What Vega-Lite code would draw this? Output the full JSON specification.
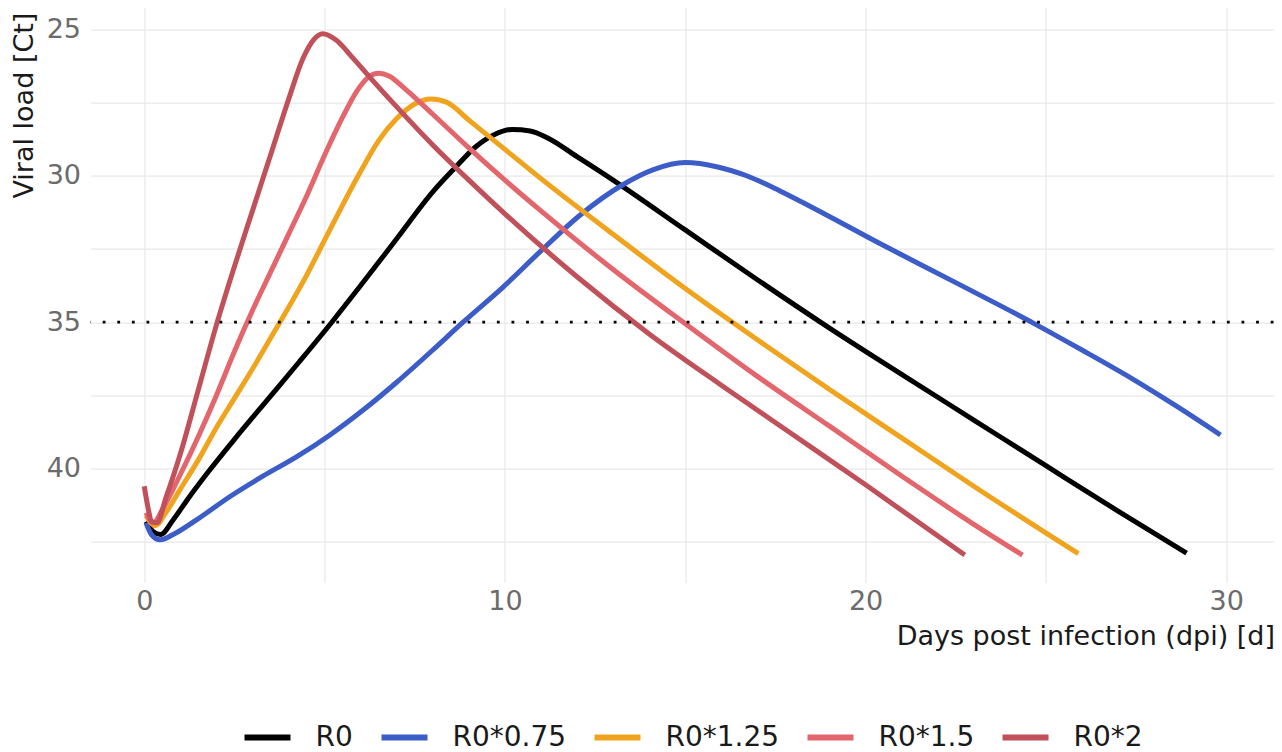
{
  "$schema": "https://vega.github.io/schema/vega-lite/v6.json",
  "width": 1183,
  "height": 575,
  "autosize": {"type": "none"},
  "padding": {"left": 90.5, "top": 7.6, "right": 8.5, "bottom": 169.4},
  "background": "white",
  "config": {"view": {"stroke": null}, "font": "DejaVu Sans"},
  "datasets": {
    "curves": [
      {"scenario": "R0", "dpi": 0.05, "ct": 41.8},
      {"scenario": "R0", "dpi": 0.25, "ct": 42.15},
      {"scenario": "R0", "dpi": 0.45, "ct": 42.25},
      {"scenario": "R0", "dpi": 0.8, "ct": 41.75},
      {"scenario": "R0", "dpi": 1.2, "ct": 41.05},
      {"scenario": "R0", "dpi": 1.75, "ct": 40.15},
      {"scenario": "R0", "dpi": 2.5, "ct": 39.0},
      {"scenario": "R0", "dpi": 3.45, "ct": 37.6},
      {"scenario": "R0", "dpi": 4.3, "ct": 36.35},
      {"scenario": "R0", "dpi": 5.2, "ct": 35.0},
      {"scenario": "R0", "dpi": 6.0, "ct": 33.75},
      {"scenario": "R0", "dpi": 7.0, "ct": 32.15},
      {"scenario": "R0", "dpi": 8.0, "ct": 30.55},
      {"scenario": "R0", "dpi": 8.6, "ct": 29.75},
      {"scenario": "R0", "dpi": 9.2, "ct": 29.0},
      {"scenario": "R0", "dpi": 9.7, "ct": 28.6},
      {"scenario": "R0", "dpi": 10.2, "ct": 28.42},
      {"scenario": "R0", "dpi": 10.7, "ct": 28.47},
      {"scenario": "R0", "dpi": 11.2, "ct": 28.72},
      {"scenario": "R0", "dpi": 12, "ct": 29.35},
      {"scenario": "R0", "dpi": 13, "ct": 30.15},
      {"scenario": "R0", "dpi": 15, "ct": 31.85},
      {"scenario": "R0", "dpi": 17, "ct": 33.55},
      {"scenario": "R0", "dpi": 19, "ct": 35.2},
      {"scenario": "R0", "dpi": 21, "ct": 36.78},
      {"scenario": "R0", "dpi": 23, "ct": 38.34},
      {"scenario": "R0", "dpi": 25, "ct": 39.9},
      {"scenario": "R0", "dpi": 27, "ct": 41.45},
      {"scenario": "R0", "dpi": 28.9, "ct": 42.88},

      {"scenario": "R0*0.75", "dpi": 0.05, "ct": 41.85},
      {"scenario": "R0*0.75", "dpi": 0.2, "ct": 42.25},
      {"scenario": "R0*0.75", "dpi": 0.44, "ct": 42.43},
      {"scenario": "R0*0.75", "dpi": 0.8, "ct": 42.25},
      {"scenario": "R0*0.75", "dpi": 1.45, "ct": 41.75},
      {"scenario": "R0*0.75", "dpi": 2.38, "ct": 40.95},
      {"scenario": "R0*0.75", "dpi": 3.3, "ct": 40.25},
      {"scenario": "R0*0.75", "dpi": 4.22, "ct": 39.6},
      {"scenario": "R0*0.75", "dpi": 5.15, "ct": 38.85},
      {"scenario": "R0*0.75", "dpi": 6.07, "ct": 38.0},
      {"scenario": "R0*0.75", "dpi": 7.0, "ct": 37.05},
      {"scenario": "R0*0.75", "dpi": 8.0, "ct": 35.95},
      {"scenario": "R0*0.75", "dpi": 8.84, "ct": 35.0},
      {"scenario": "R0*0.75", "dpi": 9.95, "ct": 33.8},
      {"scenario": "R0*0.75", "dpi": 10.97, "ct": 32.6},
      {"scenario": "R0*0.75", "dpi": 12.08, "ct": 31.35},
      {"scenario": "R0*0.75", "dpi": 13.28, "ct": 30.3},
      {"scenario": "R0*0.75", "dpi": 14.1, "ct": 29.8},
      {"scenario": "R0*0.75", "dpi": 15.0, "ct": 29.55},
      {"scenario": "R0*0.75", "dpi": 15.9, "ct": 29.7},
      {"scenario": "R0*0.75", "dpi": 16.7, "ct": 30.0},
      {"scenario": "R0*0.75", "dpi": 17.6, "ct": 30.5},
      {"scenario": "R0*0.75", "dpi": 18.55, "ct": 31.1},
      {"scenario": "R0*0.75", "dpi": 20.45, "ct": 32.35},
      {"scenario": "R0*0.75", "dpi": 22.5, "ct": 33.65},
      {"scenario": "R0*0.75", "dpi": 24.65, "ct": 35.03},
      {"scenario": "R0*0.75", "dpi": 26.0, "ct": 35.95},
      {"scenario": "R0*0.75", "dpi": 27.42, "ct": 36.95},
      {"scenario": "R0*0.75", "dpi": 28.6, "ct": 37.85},
      {"scenario": "R0*0.75", "dpi": 29.84, "ct": 38.85},

      {"scenario": "R0*1.25", "dpi": 0.05, "ct": 41.6},
      {"scenario": "R0*1.25", "dpi": 0.3, "ct": 41.95},
      {"scenario": "R0*1.25", "dpi": 0.6, "ct": 41.5},
      {"scenario": "R0*1.25", "dpi": 1.0, "ct": 40.7},
      {"scenario": "R0*1.25", "dpi": 1.5, "ct": 39.7},
      {"scenario": "R0*1.25", "dpi": 2.0, "ct": 38.6},
      {"scenario": "R0*1.25", "dpi": 2.5, "ct": 37.6},
      {"scenario": "R0*1.25", "dpi": 3.0, "ct": 36.6},
      {"scenario": "R0*1.25", "dpi": 3.5, "ct": 35.55},
      {"scenario": "R0*1.25", "dpi": 4.0, "ct": 34.5},
      {"scenario": "R0*1.25", "dpi": 4.5, "ct": 33.4},
      {"scenario": "R0*1.25", "dpi": 5.0, "ct": 32.2},
      {"scenario": "R0*1.25", "dpi": 5.5, "ct": 31.0},
      {"scenario": "R0*1.25", "dpi": 6.0, "ct": 29.85},
      {"scenario": "R0*1.25", "dpi": 6.5, "ct": 28.8},
      {"scenario": "R0*1.25", "dpi": 7.0, "ct": 28.05},
      {"scenario": "R0*1.25", "dpi": 7.5, "ct": 27.55},
      {"scenario": "R0*1.25", "dpi": 7.95, "ct": 27.38},
      {"scenario": "R0*1.25", "dpi": 8.4, "ct": 27.5},
      {"scenario": "R0*1.25", "dpi": 9, "ct": 28.1},
      {"scenario": "R0*1.25", "dpi": 10, "ct": 29.1},
      {"scenario": "R0*1.25", "dpi": 11, "ct": 30.1},
      {"scenario": "R0*1.25", "dpi": 13, "ct": 32.0},
      {"scenario": "R0*1.25", "dpi": 15, "ct": 33.85},
      {"scenario": "R0*1.25", "dpi": 17, "ct": 35.6},
      {"scenario": "R0*1.25", "dpi": 19, "ct": 37.3},
      {"scenario": "R0*1.25", "dpi": 21, "ct": 38.95},
      {"scenario": "R0*1.25", "dpi": 23, "ct": 40.6},
      {"scenario": "R0*1.25", "dpi": 25.9, "ct": 42.9},

      {"scenario": "R0*1.5", "dpi": 0.05, "ct": 41.5},
      {"scenario": "R0*1.5", "dpi": 0.25, "ct": 41.85},
      {"scenario": "R0*1.5", "dpi": 0.5, "ct": 41.4},
      {"scenario": "R0*1.5", "dpi": 1.0, "ct": 40.2},
      {"scenario": "R0*1.5", "dpi": 1.5, "ct": 38.9},
      {"scenario": "R0*1.5", "dpi": 2.0, "ct": 37.5},
      {"scenario": "R0*1.5", "dpi": 2.5, "ct": 36.0},
      {"scenario": "R0*1.5", "dpi": 3.0, "ct": 34.6},
      {"scenario": "R0*1.5", "dpi": 3.5, "ct": 33.3},
      {"scenario": "R0*1.5", "dpi": 4.0, "ct": 32.0},
      {"scenario": "R0*1.5", "dpi": 4.5, "ct": 30.7},
      {"scenario": "R0*1.5", "dpi": 5.0, "ct": 29.3},
      {"scenario": "R0*1.5", "dpi": 5.5, "ct": 28.0},
      {"scenario": "R0*1.5", "dpi": 5.9, "ct": 27.1},
      {"scenario": "R0*1.5", "dpi": 6.2, "ct": 26.65},
      {"scenario": "R0*1.5", "dpi": 6.5, "ct": 26.5},
      {"scenario": "R0*1.5", "dpi": 6.8, "ct": 26.6},
      {"scenario": "R0*1.5", "dpi": 7.2, "ct": 27.0},
      {"scenario": "R0*1.5", "dpi": 8, "ct": 27.9},
      {"scenario": "R0*1.5", "dpi": 9, "ct": 29.05},
      {"scenario": "R0*1.5", "dpi": 10, "ct": 30.15},
      {"scenario": "R0*1.5", "dpi": 11, "ct": 31.2},
      {"scenario": "R0*1.5", "dpi": 13, "ct": 33.2},
      {"scenario": "R0*1.5", "dpi": 15, "ct": 35.05},
      {"scenario": "R0*1.5", "dpi": 17, "ct": 36.85},
      {"scenario": "R0*1.5", "dpi": 19, "ct": 38.55},
      {"scenario": "R0*1.5", "dpi": 21, "ct": 40.25},
      {"scenario": "R0*1.5", "dpi": 23, "ct": 41.9},
      {"scenario": "R0*1.5", "dpi": 24.35, "ct": 42.95},

      {"scenario": "R0*2", "dpi": 0, "ct": 40.6},
      {"scenario": "R0*2", "dpi": 0.1, "ct": 41.3},
      {"scenario": "R0*2", "dpi": 0.2, "ct": 41.8},
      {"scenario": "R0*2", "dpi": 0.35, "ct": 41.85},
      {"scenario": "R0*2", "dpi": 0.6, "ct": 41.0},
      {"scenario": "R0*2", "dpi": 1.0, "ct": 39.5},
      {"scenario": "R0*2", "dpi": 1.5, "ct": 37.3},
      {"scenario": "R0*2", "dpi": 2.0, "ct": 35.1},
      {"scenario": "R0*2", "dpi": 2.5, "ct": 33.1},
      {"scenario": "R0*2", "dpi": 3.0, "ct": 31.2},
      {"scenario": "R0*2", "dpi": 3.5, "ct": 29.3},
      {"scenario": "R0*2", "dpi": 4.0, "ct": 27.4},
      {"scenario": "R0*2", "dpi": 4.4, "ct": 26.0},
      {"scenario": "R0*2", "dpi": 4.7, "ct": 25.35},
      {"scenario": "R0*2", "dpi": 4.95, "ct": 25.15},
      {"scenario": "R0*2", "dpi": 5.3, "ct": 25.35},
      {"scenario": "R0*2", "dpi": 5.8, "ct": 26.0},
      {"scenario": "R0*2", "dpi": 6.3, "ct": 26.7},
      {"scenario": "R0*2", "dpi": 7, "ct": 27.65},
      {"scenario": "R0*2", "dpi": 8, "ct": 28.95},
      {"scenario": "R0*2", "dpi": 9, "ct": 30.15},
      {"scenario": "R0*2", "dpi": 10, "ct": 31.3},
      {"scenario": "R0*2", "dpi": 12, "ct": 33.45},
      {"scenario": "R0*2", "dpi": 14, "ct": 35.4},
      {"scenario": "R0*2", "dpi": 16, "ct": 37.15},
      {"scenario": "R0*2", "dpi": 18, "ct": 38.85},
      {"scenario": "R0*2", "dpi": 20, "ct": 40.55},
      {"scenario": "R0*2", "dpi": 22.75, "ct": 42.95}
    ],
    "threshold": [{"ct": 35}]
  },
  "layer": [
    {
      "data": {"name": "curves"},
      "mark": {"type": "line", "strokeWidth": 5, "interpolate": "monotone", "strokeCap": "butt", "strokeJoin": "round"},
      "encoding": {
        "x": {
          "field": "dpi", "type": "quantitative",
          "scale": {"domain": [-1.49, 31.31], "nice": false, "zero": false},
          "axis": {
            "values": [0, 5, 10, 15, 20, 25, 30],
            "labelExpr": "datum.value % 10 === 0 ? datum.label : ''",
            "grid": true, "gridColor": "#E8E8E8", "gridWidth": 1.2,
            "domain": false, "ticks": false,
            "labelFontSize": 27, "labelColor": "#6B6B6B", "labelPadding": 6,
            "labelFlush": false, "labelOverlap": false,
            "title": "Days post infection (dpi) [d]",
            "titleFontSize": 27, "titleFontWeight": "normal", "titleColor": "#1A1A1A",
            "titleAlign": "right", "titleAnchor": "end", "titleX": 1184, "titleY": 62,
            "titleBaseline": "alphabetic"
          }
        },
        "y": {
          "field": "ct", "type": "quantitative",
          "scale": {"domain": [24.26, 43.89], "nice": false, "zero": false, "reverse": true},
          "axis": {
            "values": [25, 27.5, 30, 32.5, 35, 37.5, 40, 42.5],
            "labelExpr": "datum.value % 5 === 0 ? datum.label : ''",
            "grid": true, "gridColor": "#E8E8E8", "gridWidth": 1.2,
            "domain": false, "ticks": false,
            "labelFontSize": 27, "labelColor": "#6B6B6B", "labelPadding": 10,
            "labelFlush": false, "labelOverlap": false,
            "title": "Viral load [Ct]",
            "titleFontSize": 27, "titleFontWeight": "normal", "titleColor": "#1A1A1A",
            "titleAngle": 270, "titleAlign": "right", "titleBaseline": "middle",
            "titleX": -66, "titleY": 4.5
          }
        },
        "color": {
          "field": "scenario", "type": "nominal",
          "scale": {
            "domain": ["R0", "R0*0.75", "R0*1.25", "R0*1.5", "R0*2"],
            "range": ["#000000", "#3C5CC8", "#F0A31C", "#E2666B", "#C0505A"]
          },
          "legend": {
            "orient": "none", "direction": "horizontal",
            "legendX": 151, "legendY": 704,
            "title": null,
            "symbolType": "stroke", "symbolSize": 2116, "symbolStrokeWidth": 6,
            "labelFontSize": 28, "labelColor": "#1A1A1A", "labelOffset": 22,
            "columnPadding": 16
          }
        }
      }
    },
    {
      "data": {"name": "threshold"},
      "mark": {"type": "rule", "stroke": "black", "strokeWidth": 2.8, "strokeDash": [2.8, 11.8]},
      "encoding": {"y": {"field": "ct", "type": "quantitative"}}
    }
  ]
}
